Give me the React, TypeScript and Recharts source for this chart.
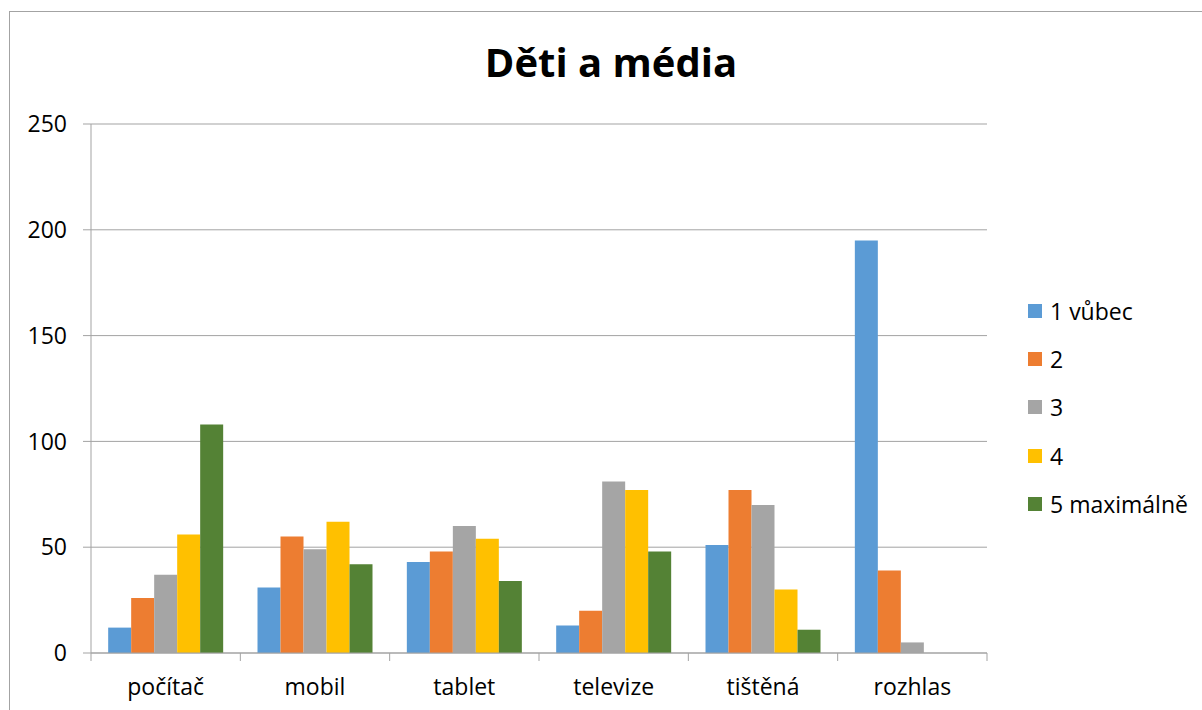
import { Bar, BarChart, CartesianGrid, Legend, XAxis, YAxis } from "recharts";

const categories = ["počítač", "mobil", "tablet", "televize", "tištěná", "rozhlas"];
const vubec = [12, 31, 43, 13, 51, 195];
const dva = [26, 55, 48, 20, 77, 39];
const tri = [37, 49, 60, 81, 70, 5];
const ctyri = [56, 62, 54, 77, 30, 0];
const maximalne = [108, 42, 34, 48, 11, 0];
const yTicks = [0, 50, 100, 150, 200, 250];

const seriesNames = ["1 vůbec", "2", "3", "4", "5 maximálně"];
const seriesColors = ["#5B9BD5", "#ED7D31", "#A5A5A5", "#FFC000", "#548235"];

const data = categories.map((name, i) => ({
  name,
  s1: vubec[i],
  s2: dva[i],
  s3: tri[i],
  s4: ctyri[i],
  s5: maximalne[i],
}));

const FONT = "'Open Sans', sans-serif";
const GRID = "#a3a3a3";

function CategoryTick(props: any) {
  const { x, y, payload, index, visibleTicksCount, width } = props;
  const half = payload?.offset ?? width / visibleTicksCount / 2;
  const last = index === visibleTicksCount - 1;
  return (
    <g>
      <line x1={x - half} x2={x - half} y1={y} y2={y + 8} stroke={GRID} />
      {last && <line x1={x + half} x2={x + half} y1={y} y2={y + 8} stroke={GRID} />}
      <text x={x} y={y + 42} textAnchor="middle" fontFamily={FONT} fontSize={23} fill="#000">
        {payload.value}
      </text>
    </g>
  );
}

function LegendBox() {
  return (
    <div style={{ fontFamily: FONT, fontSize: 23, color: "#000" }}>
      {seriesNames.map((n, i) => (
        <div key={n} style={{ height: 48.3, display: "flex", alignItems: "center" }}>
          <span style={{ width: 14, height: 14, background: seriesColors[i], marginRight: 8 }} />
          <span>{n}</span>
        </div>
      ))}
    </div>
  );
}

export default function App() {
  return (
    <div style={{ position: "relative", width: 1202, height: 710, background: "#fff" }}>
      <style>{`body{margin:0;overflow:hidden}`}</style>
      <div
        style={{
          position: "absolute",
          left: 9,
          top: 11,
          width: 1193,
          height: 699,
          borderLeft: `1px solid ${GRID}`,
          borderTop: `1px solid ${GRID}`,
          boxSizing: "border-box",
        }}
      />
      <div
        style={{
          position: "absolute",
          left: 411,
          top: 42,
          width: 400,
          textAlign: "center",
          fontFamily: FONT,
          fontWeight: 700,
          fontSize: 40,
          lineHeight: "40px",
          color: "#000",
        }}
      >
        Děti a média
      </div>
      <div style={{ position: "absolute", left: 9, top: 11 }}>
        <BarChart
          width={1193}
          height={699}
          data={data}
          margin={{ top: 113, right: 215, bottom: 17, left: 0 }}
          barCategoryGap="11.5%"
          barGap={0}
        >
          <CartesianGrid vertical={false} stroke={GRID} />
          <XAxis
            dataKey="name"
            height={40}
            axisLine={{ stroke: GRID }}
            tickLine={false}
            tickSize={0}
            tickMargin={0}
            interval={0}
            tick={<CategoryTick />}
          />
          <YAxis
            width={82}
            domain={[0, 250]}
            ticks={yTicks}
            axisLine={{ stroke: GRID }}
            tickLine={{ stroke: GRID }}
            tickSize={8}
            tickMargin={16}
            tick={{ fontFamily: FONT, fontSize: 23, fill: "#000" }}
          />
          <Legend
            layout="vertical"
            align="center"
            verticalAlign="middle"
            wrapperStyle={{ left: 1019, top: 275.5, width: "auto" }}
            content={<LegendBox />}
          />
          {seriesNames.map((n, i) => (
            <Bar
              key={n}
              dataKey={`s${i + 1}`}
              name={n}
              fill={seriesColors[i]}
              isAnimationActive={false}
            />
          ))}
        </BarChart>
      </div>
    </div>
  );
}
